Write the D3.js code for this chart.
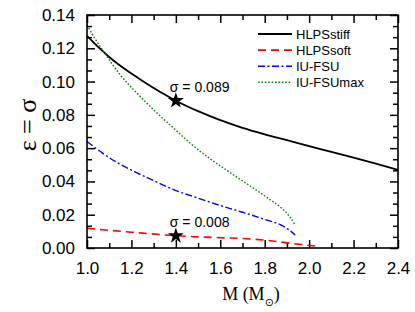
<!DOCTYPE html>
<html>
<head>
<meta charset="utf-8">
<script src="https://cdn.jsdelivr.net/npm/d3@7"></script>
<style>
  body { margin: 0; background: #fff; }
  svg { display: block; }
  .tick text { font-family: "Liberation Sans", Arial, sans-serif; font-size: 17px; fill: #000; }
</style>
</head>
<body>
<svg width="415" height="312"></svg>
<script>
// du lieu doc tu hinh
const stiffM = [1.0, 1.05, 1.1, 1.15, 1.2, 1.25, 1.3, 1.35, 1.4, 1.5, 1.6, 1.7, 1.8, 1.9, 2.0, 2.1, 2.2, 2.3, 2.4];
const stiffE = [0.1274, 0.1208, 0.1148, 0.1095, 0.1048, 0.1004, 0.0962, 0.0922, 0.0885, 0.0822, 0.0768, 0.0722, 0.0683, 0.0648, 0.0612, 0.0578, 0.0543, 0.0507, 0.047];

const softM = [1.0, 1.2, 1.4, 1.5, 1.6, 1.7, 1.8, 1.9, 1.97, 2.027];
const softE = [0.0118, 0.0095, 0.0074, 0.0067, 0.0062, 0.0057, 0.0047, 0.0031, 0.002, 0.0012];

const fsuM = [1.0, 1.07, 1.14, 1.22, 1.3, 1.4, 1.5, 1.6, 1.7, 1.8, 1.87, 1.91, 1.937];
const fsuE = [0.064, 0.057, 0.051, 0.0455, 0.0405, 0.0345, 0.030, 0.0255, 0.0215, 0.0172, 0.014, 0.0108, 0.0078];

const fsumaxM = [1.0, 1.03, 1.06, 1.09, 1.15, 1.225, 1.3, 1.39, 1.46, 1.55, 1.65, 1.76, 1.83, 1.87, 1.91, 1.937];
const fsumaxE = [0.134, 0.127, 0.121, 0.115, 0.104, 0.093, 0.083, 0.072, 0.0635, 0.054, 0.0448, 0.035, 0.0285, 0.0246, 0.0193, 0.0138];

const seriesNames = ["HLPSstiff", "HLPSsoft", "IU-FSU", "IU-FSUmax"];

// cac ngoi sao danh dau
const starM = [1.4, 1.4];
const starE = [0.0885, 0.0073];
const starLabels = ["\u03c3 = 0.089", "\u03c3 = 0.008"];

const xMajor = [1.0, 1.2, 1.4, 1.6, 1.8, 2.0, 2.2, 2.4];
const xMinor = [1.1, 1.3, 1.5, 1.7, 1.9, 2.1, 2.3];
const yMajor = [0.00, 0.02, 0.04, 0.06, 0.08, 0.10, 0.12, 0.14];

const svg = d3.select("svg");
const margin = { top: 15, right: 17, bottom: 64, left: 87 };
const width = +svg.attr("width") - margin.left - margin.right;
const height = +svg.attr("height") - margin.top - margin.bottom;
const chart = svg.append("g").attr("transform", `translate(${margin.left},${margin.top})`);

const x = d3.scaleLinear().domain([1.0, 2.4]).range([0, width]);
const y = d3.scaleLinear().domain([0, 0.14]).range([height, 0]);

// vach chia phu cua truc y: 2 vach giua moi khoang 0.02
const yMinor = [];
yMajor.slice(0, -1).forEach(v => { yMinor.push(v + 0.02 / 3, v + 0.04 / 3); });

const styles = [
  { color: "#000000", width: 1.8, dash: null },
  { color: "#ff0000", width: 1.6, dash: "8,5" },
  { color: "#0000ff", width: 1.4, dash: "7,2.5,2,2.5" },
  { color: "#008800", width: 1.4, dash: "1.6,1.8" }
];

// truc - vach huong vao trong
chart.append("g")
  .attr("transform", `translate(0,${height})`)
  .call(d3.axisBottom(x).tickValues(xMajor).tickFormat(d3.format(".1f")).tickSizeInner(-8).tickSizeOuter(0).tickPadding(14))
  .call(g => g.select(".domain").remove());
chart.append("g")
  .attr("transform", `translate(0,${height})`)
  .call(d3.axisBottom(x).tickValues(xMinor).tickFormat("").tickSizeInner(-5).tickSizeOuter(0))
  .call(g => g.select(".domain").remove());
chart.append("g")
  .call(d3.axisTop(x).tickValues(xMajor).tickFormat("").tickSizeInner(-8).tickSizeOuter(0))
  .call(g => g.select(".domain").remove());
chart.append("g")
  .call(d3.axisTop(x).tickValues(xMinor).tickFormat("").tickSizeInner(-5).tickSizeOuter(0))
  .call(g => g.select(".domain").remove());

chart.append("g")
  .call(d3.axisLeft(y).tickValues(yMajor).tickFormat(d3.format(".2f")).tickSizeInner(-8).tickSizeOuter(0).tickPadding(12))
  .call(g => g.select(".domain").remove());
chart.append("g")
  .call(d3.axisLeft(y).tickValues(yMinor).tickFormat("").tickSizeInner(-5).tickSizeOuter(0))
  .call(g => g.select(".domain").remove());
chart.append("g")
  .attr("transform", `translate(${width},0)`)
  .call(d3.axisRight(y).tickValues(yMajor).tickFormat("").tickSizeInner(-8).tickSizeOuter(0))
  .call(g => g.select(".domain").remove());
chart.append("g")
  .attr("transform", `translate(${width},0)`)
  .call(d3.axisRight(y).tickValues(yMinor).tickFormat("").tickSizeInner(-5).tickSizeOuter(0))
  .call(g => g.select(".domain").remove());

chart.selectAll(".tick line").attr("stroke", "#000").attr("stroke-width", 1.5);

// cac duong cong
const series = [
  { name: seriesNames[0], m: stiffM, e: stiffE },
  { name: seriesNames[1], m: softM, e: softE },
  { name: seriesNames[2], m: fsuM, e: fsuE },
  { name: seriesNames[3], m: fsumaxM, e: fsumaxE }
];

const line = d3.line()
  .x(d => x(d[0]))
  .y(d => y(d[1]))
  .curve(d3.curveMonotoneX);

series.forEach((s, i) => {
  chart.append("path")
    .datum(s.m.map((m, j) => [m, s.e[j]]))
    .attr("fill", "none")
    .attr("stroke", styles[i].color)
    .attr("stroke-width", styles[i].width)
    .attr("stroke-dasharray", styles[i].dash)
    .attr("d", line);
});

// khung
chart.append("rect")
  .attr("width", width)
  .attr("height", height)
  .attr("fill", "none")
  .attr("stroke", "#000")
  .attr("stroke-width", 1.6);

// ngoi sao + nhan
starM.forEach((m, i) => {
  chart.append("path")
    .attr("d", d3.symbol(d3.symbolStar, 80)())
    .attr("transform", `translate(${x(m)},${y(starE[i])})`)
    .attr("fill", "#000");
  chart.append("text")
    .attr("x", x(m) - 6)
    .attr("y", y(starE[i]) - 9)
    .style("font-family", "Liberation Sans, Arial, sans-serif")
    .style("font-size", "14px")
    .text(starLabels[i]);
});

// chu thich
const legend = svg.append("g").attr("transform", "translate(258,34)");
seriesNames.forEach((name, i) => {
  const g = legend.append("g").attr("transform", `translate(0,${i * 16.1})`);
  g.append("line")
    .attr("x1", 0).attr("x2", 34)
    .attr("stroke", styles[i].color)
    .attr("stroke-width", styles[i].width)
    .attr("stroke-dasharray", styles[i].dash);
  g.append("text")
    .attr("x", 38)
    .attr("y", 4.5)
    .style("font-family", "Liberation Sans, Arial, sans-serif")
    .style("font-size", "13px")
    .text(name);
});

// ten truc x
const xl = svg.append("text")
  .attr("x", 251)
  .attr("y", 300)
  .attr("text-anchor", "middle")
  .style("font-family", "Liberation Serif, Times New Roman, serif")
  .style("font-size", "18px");
xl.append("tspan").text("M (M");
xl.append("tspan").attr("dy", 6).style("font-family", "DejaVu Sans, sans-serif").style("font-size", "11px").text("\u2299");
xl.append("tspan").attr("dy", -6).text(")");

// ten truc y
svg.append("text")
  .attr("transform", "translate(36,125) rotate(-90)")
  .attr("text-anchor", "middle")
  .style("font-family", "Liberation Serif, Times New Roman, serif")
  .style("font-size", "26px")
  .text("\u03b5 = \u03c3");
</script>
</body>
</html>
